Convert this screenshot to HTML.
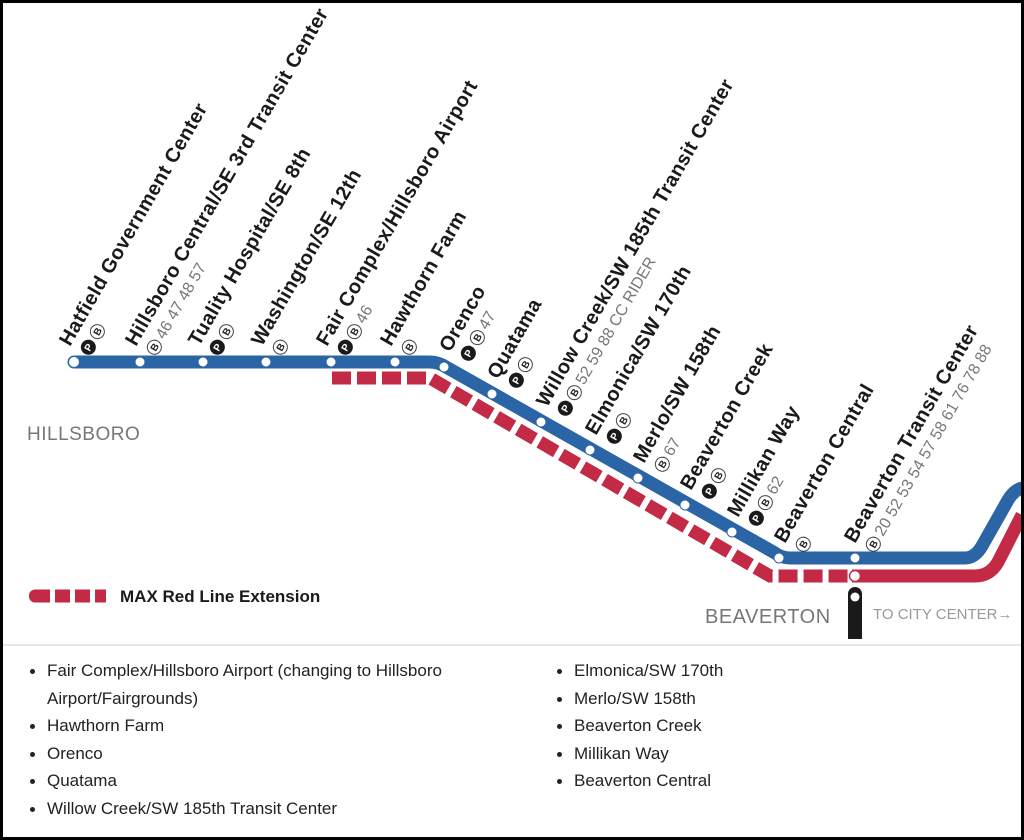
<!DOCTYPE html>
<html><head><meta charset="utf-8"><style>
html,body{margin:0;padding:0;background:#fff}
.f{position:absolute;left:0;top:0;width:1018px;height:834px;border:3px solid #000;background:#fff;overflow:hidden}
svg{position:absolute;left:-3px;top:-3px}
text{font-family:"Liberation Sans",sans-serif}
.n{font-size:20px;font-weight:bold;fill:#1a1a1a;letter-spacing:0.4px}
.g{font-size:16px;fill:#777}
.pi{font-size:10px;font-weight:bold;fill:#fff}
.bi{font-size:10px;font-weight:bold;fill:#222}
ul{position:absolute;margin:0;padding:0;list-style:none;font-family:"Liberation Sans",sans-serif;font-size:17px;color:#222;line-height:27.5px}
li{position:relative;padding-left:17px}
li:before{content:"";position:absolute;left:0;top:12px;width:5px;height:5px;border-radius:50%;background:#222}
</style></head><body><div class="f">
<svg width="1024" height="840" viewBox="0 0 1024 840">
<defs>
<g id="P"><circle r="7.5" fill="#1a1a1a"/><text class="pi" x="-3.4" y="3.6">P</text></g>
<g id="B"><circle r="7" fill="#fff" stroke="#444" stroke-width="1"/><text class="bi" x="-3.4" y="3.6">B</text></g>
</defs>
<path d="M332 378 H430 L770 576 H852" fill="none" stroke="#c22a45" stroke-width="13" stroke-dasharray="19 6"/>
<path d="M852 576 H975 Q990 576 998 562 L1022 515" fill="none" stroke="#fff" stroke-width="17"/>
<path d="M852 576 H975 Q990 576 998 562 L1022 515" fill="none" stroke="#c22a45" stroke-width="13"/>
<path d="M74 362 H430 Q438 362 446 367 L775 553 Q782 558 790 558 H965 Q975 558 982 546 L1008 500 Q1014 490 1022 488" fill="none" stroke="#fff" stroke-width="17"/>
<path d="M74 362 H430 Q438 362 446 367 L775 553 Q782 558 790 558 H965 Q975 558 982 546 L1008 500 Q1014 490 1022 488" fill="none" stroke="#2b65a6" stroke-width="13" stroke-linecap="round"/>
<g fill="#fff" stroke="#2b65a6" stroke-width="1">
<circle cx="74" cy="362" r="5.5"/><circle cx="140" cy="362" r="5"/><circle cx="203" cy="362" r="5"/><circle cx="266" cy="362" r="5"/><circle cx="331" cy="362" r="5"/><circle cx="395" cy="362" r="5"/>
<circle cx="444" cy="367" r="5"/><circle cx="492" cy="394" r="5"/><circle cx="541" cy="422" r="5"/><circle cx="590" cy="450" r="5"/><circle cx="638" cy="478" r="5"/><circle cx="685" cy="505" r="5"/><circle cx="732" cy="532" r="5"/><circle cx="779" cy="558" r="5"/><circle cx="855" cy="558" r="5"/>
</g>
<rect x="848" y="587" width="14" height="52" rx="7" fill="#1a1a1a"/>
<rect x="848" y="628" width="14" height="11" fill="#1a1a1a"/>
<circle cx="855" cy="597" r="4.5" fill="#fff"/>
<circle cx="855" cy="576" r="5.5" fill="#fff" stroke="#c22a45" stroke-width="1.5"/>
<g transform="translate(70,347) rotate(-60)"><text class="n">Hatfield Government Center</text><use href="#P" x="9" y="16"/><use href="#B" x="27" y="16"/></g>
<g transform="translate(136,347) rotate(-60)"><text class="n">Hillsboro Central/SE 3rd Transit Center</text><use href="#B" x="9" y="16"/><text class="g" x="20" y="21">46 47 48 57</text></g>
<g transform="translate(199,347) rotate(-60)"><text class="n">Tuality Hospital/SE 8th</text><use href="#P" x="9" y="16"/><use href="#B" x="27" y="16"/></g>
<g transform="translate(262,347) rotate(-60)"><text class="n">Washington/SE 12th</text><use href="#B" x="9" y="16"/></g>
<g transform="translate(327,347) rotate(-60)"><text class="n">Fair Complex/Hillsboro Airport</text><use href="#P" x="9" y="16"/><use href="#B" x="27" y="16"/><text class="g" x="38" y="21">46</text></g>
<g transform="translate(391,347) rotate(-60)"><text class="n">Hawthorn Farm</text><use href="#B" x="9" y="16"/></g>
<g transform="translate(450,353) rotate(-60)"><text class="n">Orenco</text><use href="#P" x="9" y="16"/><use href="#B" x="27" y="16"/><text class="g" x="38" y="21">47</text></g>
<g transform="translate(498,380) rotate(-60)"><text class="n">Quatama</text><use href="#P" x="9" y="16"/><use href="#B" x="27" y="16"/></g>
<g transform="translate(547,408) rotate(-60)"><text class="n">Willow Creek/SW 185th Transit Center</text><use href="#P" x="9" y="16"/><use href="#B" x="27" y="16"/><text class="g" x="38" y="21">52 59 88 CC RIDER</text></g>
<g transform="translate(596,436) rotate(-60)"><text class="n">Elmonica/SW 170th</text><use href="#P" x="9" y="16"/><use href="#B" x="27" y="16"/></g>
<g transform="translate(644,464) rotate(-60)"><text class="n">Merlo/SW 158th</text><use href="#B" x="9" y="16"/><text class="g" x="20" y="21">67</text></g>
<g transform="translate(691,491) rotate(-60)"><text class="n">Beaverton Creek</text><use href="#P" x="9" y="16"/><use href="#B" x="27" y="16"/></g>
<g transform="translate(738,518) rotate(-60)"><text class="n">Millikan Way</text><use href="#P" x="9" y="16"/><use href="#B" x="27" y="16"/><text class="g" x="38" y="21">62</text></g>
<g transform="translate(785,544) rotate(-60)"><text class="n">Beaverton Central</text><use href="#B" x="9" y="16"/></g>
<g transform="translate(855,544) rotate(-60)"><text class="n">Beaverton Transit Center</text><use href="#B" x="9" y="16"/><text class="g" x="20" y="21">20 52 53 54 57 58 61 76 78 88</text></g>
<text x="27" y="440" font-size="19" fill="#777" letter-spacing="0.5">HILLSBORO</text>
<text x="705" y="623" font-size="20" fill="#777" letter-spacing="0.5">BEAVERTON</text>
<text x="873" y="619" font-size="15" fill="#999">TO CITY CENTER→</text>
<path d="M35 596 H106" stroke="#c22a45" stroke-width="13" stroke-dasharray="15 5"/>
<rect x="29" y="589.5" width="12" height="13" rx="6" fill="#c22a45"/>
<text x="120" y="602" font-size="17" font-weight="bold" fill="#1a1a1a">MAX Red Line Extension</text>
<line x1="3" y1="645" x2="1021" y2="645" stroke="#ccc" stroke-width="1"/>
</svg>
<ul style="left:27px;top:654px;width:480px">
<li>Fair Complex/Hillsboro Airport (changing to Hillsboro Airport/Fairgrounds)</li>
<li>Hawthorn Farm</li><li>Orenco</li><li>Quatama</li><li>Willow Creek/SW 185th Transit Center</li></ul>
<ul style="left:554px;top:654px;width:400px">
<li>Elmonica/SW 170th</li><li>Merlo/SW 158th</li><li>Beaverton Creek</li><li>Millikan Way</li><li>Beaverton Central</li></ul>
</div></body></html>
